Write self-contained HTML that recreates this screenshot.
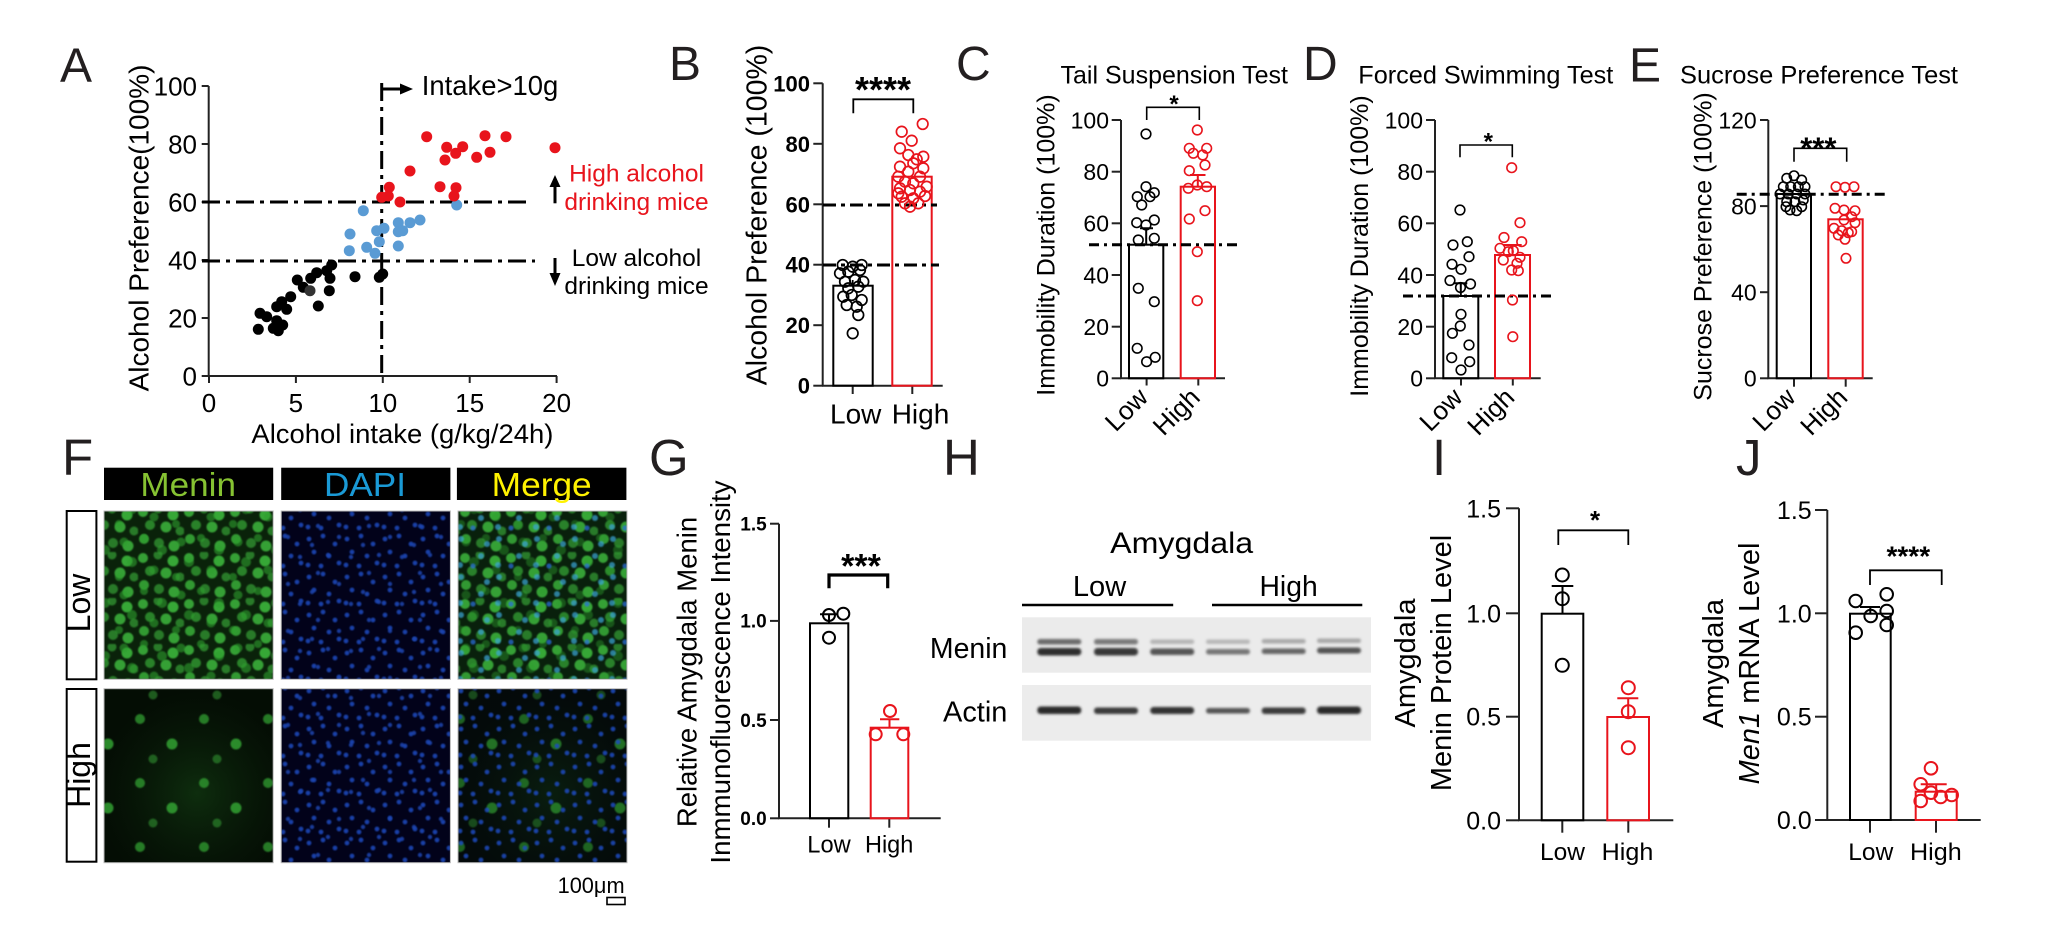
<!DOCTYPE html>
<html><head><meta charset="utf-8"><style>
html,body{margin:0;padding:0;background:#fff;}
svg{display:block;}
text{font-family:"Liberation Sans",Arial,sans-serif;fill:#000;}
.lt{fill:#231f20;font-size:48px;}
.lt2{fill:#231f20;font-size:51px;}
</style></head><body>
<svg width="2048" height="931" viewBox="0 0 2048 931" xmlns="http://www.w3.org/2000/svg">
<defs>
<filter id="bl" x="0" y="0" width="100%" height="100%"><feGaussianBlur stdDeviation="0.9"/></filter>
<filter id="bb" x="-20%" y="-150%" width="140%" height="400%"><feGaussianBlur stdDeviation="1.4"/></filter>
<pattern id="pg1" width="46" height="46" patternUnits="userSpaceOnUse">
<circle cx="5" cy="6" r="5" fill="#3cb63c" fill-opacity=".85"/><circle cx="20" cy="3" r="4.5" fill="#3cb63c" fill-opacity=".6"/>
<circle cx="35" cy="9" r="5.5" fill="#3cb63c" fill-opacity=".9"/><circle cx="12" cy="19" r="5" fill="#3cb63c" fill-opacity=".65"/>
<circle cx="28" cy="21" r="5.5" fill="#3cb63c" fill-opacity=".85"/><circle cx="42" cy="25" r="4.5" fill="#3cb63c" fill-opacity=".6"/>
<circle cx="6" cy="33" r="5" fill="#3cb63c" fill-opacity=".8"/><circle cx="21" cy="37" r="5" fill="#3cb63c" fill-opacity=".6"/>
<circle cx="36" cy="40" r="5.5" fill="#3cb63c" fill-opacity=".85"/>
</pattern>
<pattern id="pg2" width="57" height="53" patternUnits="userSpaceOnUse">
<circle cx="10" cy="12" r="4.5" fill="#2e9e2e" fill-opacity=".6"/><circle cx="30" cy="8" r="4" fill="#2e9e2e" fill-opacity=".6"/>
<circle cx="48" cy="20" r="5" fill="#2e9e2e" fill-opacity=".6"/><circle cx="18" cy="32" r="5" fill="#2e9e2e" fill-opacity=".6"/>
<circle cx="40" cy="40" r="4.5" fill="#2e9e2e" fill-opacity=".6"/><circle cx="5" cy="47" r="4" fill="#2e9e2e" fill-opacity=".6"/>
</pattern>
<pattern id="pb1" width="38" height="38" patternUnits="userSpaceOnUse">
<circle cx="5" cy="7" r="2.4" fill="#1f4cc0"/><circle cx="19" cy="4" r="2.4" fill="#1f4cc0"/><circle cx="31" cy="12" r="2.4" fill="#1f4cc0"/>
<circle cx="10" cy="20" r="2.4" fill="#1f4cc0"/><circle cx="25" cy="24" r="2.4" fill="#1f4cc0"/><circle cx="35" cy="31" r="2.4" fill="#1f4cc0"/>
<circle cx="4" cy="33" r="2.4" fill="#1f4cc0"/><circle cx="17" cy="34" r="2.4" fill="#1f4cc0"/>
</pattern>
<pattern id="pb2" width="51" height="47" patternUnits="userSpaceOnUse">
<circle cx="12" cy="9" r="2.2" fill="#1c44b0"/><circle cx="33" cy="20" r="2.2" fill="#1c44b0"/><circle cx="45" cy="40" r="2.2" fill="#1c44b0"/>
<circle cx="22" cy="38" r="2.2" fill="#1c44b0"/><circle cx="6" cy="28" r="2.2" fill="#1c44b0"/>
</pattern>
<pattern id="pc" width="38" height="38" patternUnits="userSpaceOnUse">
<circle cx="5" cy="7" r="3" fill="#3aa6d8"/><circle cx="31" cy="12" r="3" fill="#3aa6d8"/>
<circle cx="25" cy="24" r="3" fill="#3aa6d8"/><circle cx="4" cy="33" r="3" fill="#3aa6d8"/><circle cx="17" cy="34" r="2.6" fill="#2b6fe3"/>
</pattern>
<pattern id="ps" width="64" height="64" patternUnits="userSpaceOnUse">
<circle cx="12" cy="15" r="5" fill="#35a935" fill-opacity=".7"/><circle cx="44" cy="40" r="5.5" fill="#35a935" fill-opacity=".8"/>
<circle cx="25" cy="55" r="4.5" fill="#35a935" fill-opacity=".5"/>
</pattern>
<radialGradient id="hz" cx="0.55" cy="0.6" r="0.6">
<stop offset="0" stop-color="#1b5a1b" stop-opacity=".45"/><stop offset="1" stop-color="#0a220a" stop-opacity=".15"/>
</radialGradient>
</defs>

<!-- ================= PANEL A ================= -->
<text class="lt" x="60" y="81.7" font-size="46">A</text>
<g stroke="#222" stroke-width="2" fill="none">
<line x1="208.7" y1="86" x2="208.7" y2="376"/>
<line x1="208" y1="376" x2="557" y2="376"/>
<line x1="201.7" y1="86" x2="208.7" y2="86"/><line x1="201.7" y1="144" x2="208.7" y2="144"/>
<line x1="201.7" y1="202" x2="208.7" y2="202"/><line x1="201.7" y1="260" x2="208.7" y2="260"/>
<line x1="201.7" y1="318" x2="208.7" y2="318"/><line x1="201.7" y1="376" x2="208.7" y2="376"/>
<line x1="209" y1="376" x2="209" y2="383"/><line x1="295.9" y1="376" x2="295.9" y2="383"/>
<line x1="382.8" y1="376" x2="382.8" y2="383"/><line x1="469.7" y1="376" x2="469.7" y2="383"/>
<line x1="556.6" y1="376" x2="556.6" y2="383"/>
</g>
<g font-size="26" text-anchor="end">
<text x="197" y="95.3">100</text><text x="197" y="153.3">80</text><text x="197" y="211.3">60</text>
<text x="197" y="269.3">40</text><text x="197" y="327.3">20</text><text x="197" y="385.3">0</text>
</g>
<g font-size="26" text-anchor="middle">
<text x="209" y="412">0</text><text x="295.9" y="412">5</text><text x="382.8" y="412">10</text>
<text x="469.7" y="412">15</text><text x="556.6" y="412">20</text>
</g>
<text x="251.4" y="443" font-size="27" textLength="302" lengthAdjust="spacingAndGlyphs">Alcohol intake (g/kg/24h)</text>
<text transform="translate(148.3,228) rotate(-90)" font-size="28" text-anchor="middle">Alcohol Preference(100%)</text>
<g stroke="#000" stroke-width="3" stroke-dasharray="18 6 4 6" fill="none">
<line x1="202" y1="202" x2="532" y2="202"/>
<line x1="202" y1="261" x2="535" y2="261"/>
<line x1="381.7" y1="83" x2="381.7" y2="376"/>
</g>
<line x1="383" y1="89" x2="402" y2="89" stroke="#000" stroke-width="3"/>
<polygon points="400,83.5 413,89 400,94.5" fill="#000"/>
<text x="421.7" y="95" font-size="28" textLength="136.6" lengthAdjust="spacingAndGlyphs">Intake&gt;10g</text>
<line x1="555" y1="203.3" x2="555" y2="186" stroke="#000" stroke-width="3"/>
<polygon points="549.5,187 555,175 560.5,187" fill="#000"/>
<line x1="555" y1="258" x2="555" y2="274" stroke="#000" stroke-width="3"/>
<polygon points="549.5,273 555,286 560.5,273" fill="#000"/>
<g font-size="24.5" text-anchor="middle">
<text x="636.5" y="181.7" style="fill:#e8141c">High alcohol</text>
<text x="636.5" y="210" style="fill:#e8141c">drinking mice</text>
<text x="636.5" y="266">Low alcohol</text>
<text x="636.5" y="294">drinking mice</text>
</g>
<g fill="#000">
<circle cx="331.7" cy="265" r="5.5"/><circle cx="316.7" cy="272.7" r="5.5"/><circle cx="310.7" cy="278.3" r="5.5"/>
<circle cx="330" cy="278.3" r="5.5"/><circle cx="326.7" cy="270.7" r="5.5"/><circle cx="297.3" cy="280" r="5.5"/>
<circle cx="303.3" cy="287.3" r="5.5"/><circle cx="329.3" cy="290.7" r="5.5"/><circle cx="355" cy="276.7" r="5.5"/>
<circle cx="379.3" cy="277.3" r="5.5"/><circle cx="382.7" cy="274" r="5.5"/><circle cx="290.7" cy="296.7" r="5.5"/>
<circle cx="318.3" cy="306" r="5.5"/><circle cx="286.7" cy="309.3" r="5.5"/><circle cx="281.7" cy="301.7" r="5.5"/>
<circle cx="276.7" cy="306.7" r="5.5"/><circle cx="260" cy="313.3" r="5.5"/><circle cx="266.7" cy="316.7" r="5.5"/>
<circle cx="276.7" cy="320.7" r="5.5"/><circle cx="282.7" cy="325" r="5.5"/><circle cx="278.3" cy="330.7" r="5.5"/>
<circle cx="258.3" cy="329.3" r="5.5"/><circle cx="273.3" cy="328.3" r="5.5"/>
</g>
<circle cx="310" cy="290.7" r="5.5" fill="#333"/>
<g fill="#5a9bd4">
<circle cx="363.3" cy="210.7" r="5.5"/><circle cx="456.7" cy="205" r="5.5"/><circle cx="398.3" cy="222.7" r="5.5"/>
<circle cx="410" cy="222.7" r="5.5"/><circle cx="420" cy="220" r="5.5"/><circle cx="398.3" cy="231.7" r="5.5"/>
<circle cx="402.7" cy="230.7" r="5.5"/><circle cx="350" cy="234" r="5.5"/><circle cx="376.7" cy="230.7" r="5.5"/>
<circle cx="384" cy="228.3" r="5.5"/><circle cx="379.3" cy="241.7" r="5.5"/><circle cx="366.7" cy="247.3" r="5.5"/>
<circle cx="398.3" cy="246" r="5.5"/><circle cx="349.3" cy="250.7" r="5.5"/><circle cx="375" cy="253.3" r="5.5"/>
</g>
<g fill="#e8141c">
<circle cx="426.7" cy="136.7" r="5.5"/><circle cx="446.7" cy="147.3" r="5.5"/><circle cx="462.7" cy="146.7" r="5.5"/>
<circle cx="455.7" cy="153.3" r="5.5"/><circle cx="445" cy="160" r="5.5"/><circle cx="485" cy="135.7" r="5.5"/>
<circle cx="506" cy="136.7" r="5.5"/><circle cx="490" cy="152.3" r="5.5"/><circle cx="476.7" cy="157.3" r="5.5"/>
<circle cx="555" cy="147.7" r="5.5"/><circle cx="410" cy="171" r="5.5"/><circle cx="389.3" cy="187.3" r="5.5"/>
<circle cx="440" cy="186.7" r="5.5"/><circle cx="456" cy="187.7" r="5.5"/><circle cx="454" cy="196" r="5.5"/>
<circle cx="381.7" cy="197.3" r="5.5"/><circle cx="388.3" cy="196" r="5.5"/><circle cx="400" cy="202" r="5.5"/>
</g>

<!-- ================= PANEL B ================= -->
<text class="lt" x="669" y="80">B</text>
<text transform="translate(766.7,215) rotate(-90)" font-size="28.5" text-anchor="middle">Alcohol Preference (100%)</text>
<g stroke="#222" stroke-width="2" fill="none">
<line x1="822.7" y1="83.3" x2="822.7" y2="385.7"/>
<line x1="822" y1="385.7" x2="942.7" y2="385.7"/>
<line x1="813.3" y1="83.3" x2="822.7" y2="83.3"/><line x1="813.3" y1="143.8" x2="822.7" y2="143.8"/>
<line x1="813.3" y1="204.3" x2="822.7" y2="204.3"/><line x1="813.3" y1="264.7" x2="822.7" y2="264.7"/>
<line x1="813.3" y1="325.2" x2="822.7" y2="325.2"/><line x1="813.3" y1="385.7" x2="822.7" y2="385.7"/>
<line x1="852.7" y1="385.7" x2="852.7" y2="394"/><line x1="912.3" y1="385.7" x2="912.3" y2="394"/>
</g>
<g font-size="22" font-weight="bold" text-anchor="end">
<text x="810" y="91.3">100</text><text x="810" y="151.8">80</text><text x="810" y="212.3">60</text>
<text x="810" y="272.7">40</text><text x="810" y="333.2">20</text><text x="810" y="393.7">0</text>
</g>
<rect x="833.3" y="285.7" width="39.4" height="100" fill="none" stroke="#000" stroke-width="2"/>
<rect x="892.3" y="176.7" width="39.4" height="209" fill="none" stroke="#e8141c" stroke-width="2"/>
<g stroke="#000" stroke-width="3" stroke-dasharray="13 5 4 5" fill="none">
<line x1="823" y1="205" x2="937" y2="205"/>
<line x1="823" y1="265" x2="939" y2="265"/>
</g>
<path d="M853.3,113.3 V99.3 H913.3 V113.3" fill="none" stroke="#000" stroke-width="1.8"/>
<text x="883" y="102" font-size="36" font-weight="bold" text-anchor="middle">****</text>
<g fill="none" stroke="#000" stroke-width="1.7">
<circle cx="842.7" cy="265" r="5.3"/><circle cx="852.7" cy="266.7" r="5.3"/><circle cx="861.7" cy="265" r="5.3"/>
<circle cx="840" cy="273.3" r="5.3"/><circle cx="848.3" cy="271.7" r="5.3"/><circle cx="860" cy="270" r="5.3"/>
<circle cx="845" cy="281.7" r="5.3"/><circle cx="855" cy="280" r="5.3"/><circle cx="863.3" cy="281.7" r="5.3"/>
<circle cx="848.3" cy="288.3" r="5.3"/><circle cx="858.3" cy="286.7" r="5.3"/><circle cx="843.3" cy="296.7" r="5.3"/>
<circle cx="851.7" cy="295" r="5.3"/><circle cx="861.7" cy="300" r="5.3"/><circle cx="846.7" cy="305" r="5.3"/>
<circle cx="856.7" cy="306.7" r="5.3"/><circle cx="858.3" cy="315" r="5.3"/><circle cx="852.7" cy="333.3" r="5.3"/>
<line x1="852.7" y1="285.7" x2="852.7" y2="280"/>
</g>
<g fill="none" stroke="#e8141c" stroke-width="1.7">
<circle cx="922.7" cy="124" r="5.3"/><circle cx="901.7" cy="131.7" r="5.3"/><circle cx="911.7" cy="140.7" r="5.3"/>
<circle cx="900" cy="148.3" r="5.3"/><circle cx="923.3" cy="156.7" r="5.3"/><circle cx="908.3" cy="155" r="5.3"/>
<circle cx="916.7" cy="159.3" r="5.3"/><circle cx="900" cy="166.7" r="5.3"/><circle cx="913.3" cy="163.3" r="5.3"/>
<circle cx="908.3" cy="171.7" r="5.3"/><circle cx="923.3" cy="168.3" r="5.3"/><circle cx="898.3" cy="176.7" r="5.3"/>
<circle cx="920" cy="176.7" r="5.3"/><circle cx="905" cy="181.7" r="5.3"/><circle cx="913.3" cy="183.3" r="5.3"/>
<circle cx="900" cy="188.3" r="5.3"/><circle cx="926.7" cy="186.7" r="5.3"/><circle cx="910" cy="190" r="5.3"/>
<circle cx="920" cy="191.7" r="5.3"/><circle cx="901.7" cy="196.7" r="5.3"/><circle cx="913.3" cy="198.3" r="5.3"/>
<circle cx="925" cy="196" r="5.3"/><circle cx="905" cy="203.3" r="5.3"/><circle cx="918.3" cy="203.3" r="5.3"/>
<circle cx="910" cy="206.7" r="5.3"/><circle cx="898.3" cy="193.3" r="5.3"/>
</g>
<text x="830" y="423.3" font-size="28">Low</text>
<text x="891.7" y="423.3" font-size="28">High</text>

<!-- ================= PANEL C ================= -->
<text class="lt" x="956" y="80">C</text>
<text x="1288" y="83.3" font-size="25" text-anchor="end">Tail Suspension Test</text>
<text transform="translate(1054.5,245) rotate(-90)" font-size="25" text-anchor="middle">Immobility Duration (100%)</text>
<g stroke="#222" stroke-width="2" fill="none">
<line x1="1121" y1="120" x2="1121" y2="378.3"/>
<line x1="1120" y1="378.3" x2="1225" y2="378.3"/>
<line x1="1111.7" y1="120" x2="1121" y2="120"/><line x1="1111.7" y1="171.7" x2="1121" y2="171.7"/>
<line x1="1111.7" y1="223.3" x2="1121" y2="223.3"/><line x1="1111.7" y1="275" x2="1121" y2="275"/>
<line x1="1111.7" y1="326.7" x2="1121" y2="326.7"/><line x1="1111.7" y1="378.3" x2="1121" y2="378.3"/>
<line x1="1146.6" y1="378.3" x2="1146.6" y2="385.5"/><line x1="1198.3" y1="378.3" x2="1198.3" y2="385.5"/>
</g>
<g font-size="23" text-anchor="end">
<text x="1109" y="128.3">100</text><text x="1109" y="180">80</text><text x="1109" y="231.6">60</text>
<text x="1109" y="283.3">40</text><text x="1109" y="335">20</text><text x="1109" y="386.6">0</text>
</g>
<rect x="1129" y="244.7" width="34.3" height="133.6" fill="none" stroke="#000" stroke-width="2"/>
<rect x="1180.7" y="186.7" width="34.3" height="191.6" fill="none" stroke="#e8141c" stroke-width="2"/>
<path d="M1146.2,244.7 V228.3 M1140,228.3 H1153" stroke="#000" stroke-width="2" fill="none"/>
<path d="M1197.8,186.7 V175 M1190,175 H1205.5" stroke="#e8141c" stroke-width="2" fill="none"/>
<line x1="1089" y1="244.7" x2="1237" y2="244.7" stroke="#000" stroke-width="3" stroke-dasharray="10 5 3 5"/>
<path d="M1146.7,120 V107.3 H1199.3 V120" fill="none" stroke="#000" stroke-width="1.6"/>
<text x="1174" y="112" font-size="24" font-weight="bold" text-anchor="middle">*</text>
<g fill="none" stroke="#000" stroke-width="1.6">
<circle cx="1146" cy="134" r="4.8"/><circle cx="1146" cy="186.7" r="4.8"/><circle cx="1137.3" cy="196.7" r="4.8"/>
<circle cx="1150" cy="196.7" r="4.8"/><circle cx="1154.3" cy="192.7" r="4.8"/><circle cx="1141.7" cy="205" r="4.8"/>
<circle cx="1154.3" cy="220" r="4.8"/><circle cx="1136.7" cy="222.7" r="4.8"/><circle cx="1146" cy="225" r="4.8"/>
<circle cx="1138.3" cy="240" r="4.8"/><circle cx="1154.3" cy="238.3" r="4.8"/><circle cx="1138.3" cy="288.3" r="4.8"/>
<circle cx="1154.3" cy="301.7" r="4.8"/><circle cx="1137.2" cy="348.3" r="4.8"/><circle cx="1155.2" cy="357.3" r="4.8"/>
<circle cx="1146.6" cy="361.7" r="4.8"/>
</g>
<g fill="none" stroke="#e8141c" stroke-width="1.6">
<circle cx="1197.3" cy="130" r="4.8"/><circle cx="1189.3" cy="148.3" r="4.8"/><circle cx="1206.7" cy="148.3" r="4.8"/>
<circle cx="1193.3" cy="153.3" r="4.8"/><circle cx="1202.7" cy="155" r="4.8"/><circle cx="1205" cy="165" r="4.8"/>
<circle cx="1189.3" cy="170.7" r="4.8"/><circle cx="1197.3" cy="185" r="4.8"/><circle cx="1188.3" cy="188.3" r="4.8"/>
<circle cx="1206.7" cy="186.7" r="4.8"/><circle cx="1205" cy="210.7" r="4.8"/><circle cx="1189.3" cy="219" r="4.8"/>
<circle cx="1197.3" cy="251.7" r="4.8"/><circle cx="1197.3" cy="300.7" r="4.8"/>
</g>
<g font-size="26" text-anchor="end">
<text transform="translate(1149.5,399) rotate(-45)">Low</text>
<text transform="translate(1201.5,399) rotate(-45)">High</text>
</g>

<!-- ================= PANEL D ================= -->
<text class="lt" x="1303" y="80">D</text>
<text x="1358.3" y="83.3" font-size="25" textLength="255" lengthAdjust="spacingAndGlyphs">Forced Swimming Test</text>
<text transform="translate(1368,246) rotate(-90)" font-size="25" text-anchor="middle">Immobility Duration (100%)</text>
<g stroke="#222" stroke-width="2" fill="none">
<line x1="1435" y1="120" x2="1435" y2="378.3"/>
<line x1="1434" y1="378.3" x2="1540.7" y2="378.3"/>
<line x1="1426" y1="120" x2="1435" y2="120"/><line x1="1426" y1="171.7" x2="1435" y2="171.7"/>
<line x1="1426" y1="223.3" x2="1435" y2="223.3"/><line x1="1426" y1="275" x2="1435" y2="275"/>
<line x1="1426" y1="326.7" x2="1435" y2="326.7"/><line x1="1426" y1="378.3" x2="1435" y2="378.3"/>
<line x1="1461" y1="378.3" x2="1461" y2="385.5"/><line x1="1512.8" y1="378.3" x2="1512.8" y2="385.5"/>
</g>
<g font-size="23" text-anchor="end">
<text x="1423" y="128.3">100</text><text x="1423" y="180">80</text><text x="1423" y="231.6">60</text>
<text x="1423" y="283.3">40</text><text x="1423" y="335">20</text><text x="1423" y="386.6">0</text>
</g>
<rect x="1443.3" y="296" width="35" height="82.3" fill="none" stroke="#000" stroke-width="2"/>
<rect x="1495" y="255" width="35" height="123.3" fill="none" stroke="#e8141c" stroke-width="2"/>
<path d="M1460.8,296 V283.3 M1453.3,283.3 H1467.3" stroke="#000" stroke-width="2" fill="none"/>
<path d="M1512.5,255 V245 M1503,245 H1521.7" stroke="#e8141c" stroke-width="2" fill="none"/>
<line x1="1403" y1="296" x2="1552" y2="296" stroke="#000" stroke-width="3" stroke-dasharray="10 5 3 5"/>
<path d="M1460,157.3 V145 H1512.3 V157.3" fill="none" stroke="#000" stroke-width="1.6"/>
<text x="1488.3" y="149.6" font-size="24" font-weight="bold" text-anchor="middle">*</text>
<g fill="none" stroke="#000" stroke-width="1.6">
<circle cx="1460" cy="210" r="4.8"/><circle cx="1453" cy="245" r="4.8"/><circle cx="1467.3" cy="241.7" r="4.8"/>
<circle cx="1469" cy="256.7" r="4.8"/><circle cx="1452" cy="264.3" r="4.8"/><circle cx="1461" cy="269.3" r="4.8"/>
<circle cx="1450" cy="280.5" r="4.8"/><circle cx="1470.5" cy="284" r="4.8"/><circle cx="1460.5" cy="287.5" r="4.8"/>
<circle cx="1461" cy="314.3" r="4.8"/><circle cx="1460.3" cy="326" r="4.8"/><circle cx="1452.4" cy="333.3" r="4.8"/>
<circle cx="1469" cy="345" r="4.8"/><circle cx="1451.7" cy="357.7" r="4.8"/><circle cx="1469.7" cy="361.7" r="4.8"/>
<circle cx="1461" cy="370" r="4.8"/>
</g>
<g fill="none" stroke="#e8141c" stroke-width="1.6">
<circle cx="1511.7" cy="167.7" r="4.8"/><circle cx="1520" cy="222.7" r="4.8"/><circle cx="1504" cy="237.5" r="4.8"/>
<circle cx="1521.7" cy="241.7" r="4.8"/><circle cx="1500" cy="248.3" r="4.8"/><circle cx="1508.3" cy="251.7" r="4.8"/>
<circle cx="1513.3" cy="250.7" r="4.8"/><circle cx="1520" cy="257.3" r="4.8"/><circle cx="1503.3" cy="260" r="4.8"/>
<circle cx="1511.7" cy="270" r="4.8"/><circle cx="1518.3" cy="270.7" r="4.8"/><circle cx="1512.5" cy="300" r="4.8"/>
<circle cx="1512.8" cy="336.7" r="4.8"/><circle cx="1517" cy="263.3" r="4.8"/>
</g>
<g font-size="26" text-anchor="end">
<text transform="translate(1464,399) rotate(-45)">Low</text>
<text transform="translate(1516,399) rotate(-45)">High</text>
</g>

<!-- ================= PANEL E ================= -->
<text class="lt" x="1629" y="81.7" font-size="50">E</text>
<text x="1680" y="83.3" font-size="25" textLength="278" lengthAdjust="spacingAndGlyphs">Sucrose Preference Test</text>
<text transform="translate(1711.7,246.5) rotate(-90)" font-size="25" text-anchor="middle">Sucrose Preference (100%)</text>
<g stroke="#222" stroke-width="2" fill="none">
<line x1="1768.3" y1="120" x2="1768.3" y2="378.3"/>
<line x1="1767.3" y1="378.3" x2="1872.7" y2="378.3"/>
<line x1="1760" y1="120" x2="1768.3" y2="120"/><line x1="1760" y1="206.1" x2="1768.3" y2="206.1"/>
<line x1="1760" y1="292.2" x2="1768.3" y2="292.2"/><line x1="1760" y1="378.3" x2="1768.3" y2="378.3"/>
<line x1="1794" y1="378.3" x2="1794" y2="386.7"/><line x1="1845.7" y1="378.3" x2="1845.7" y2="386.7"/>
</g>
<g font-size="23" text-anchor="end">
<text x="1756.7" y="128.3">120</text><text x="1756.7" y="214.4">80</text>
<text x="1756.7" y="300.5">40</text><text x="1756.7" y="386.6">0</text>
</g>
<rect x="1776.7" y="194" width="34.3" height="184.3" fill="none" stroke="#000" stroke-width="2"/>
<rect x="1828.3" y="219.3" width="34.4" height="159" fill="none" stroke="#e8141c" stroke-width="2"/>
<line x1="1736.7" y1="194.3" x2="1885" y2="194.3" stroke="#000" stroke-width="3" stroke-dasharray="10 5 3 5"/>
<path d="M1794,161.7 V148.3 H1846.7 V161.7" fill="none" stroke="#000" stroke-width="1.6"/>
<text x="1818.3" y="158.4" font-size="31" font-weight="bold" text-anchor="middle">***</text>
<g fill="none" stroke="#000" stroke-width="1.6">
<circle cx="1794" cy="175.7" r="4.7"/><circle cx="1786.7" cy="178.3" r="4.7"/><circle cx="1801.7" cy="180" r="4.7"/>
<circle cx="1783.3" cy="186.7" r="4.7"/><circle cx="1790.7" cy="186.7" r="4.7"/><circle cx="1798.3" cy="186.7" r="4.7"/>
<circle cx="1805" cy="186.7" r="4.7"/><circle cx="1780" cy="194" r="4.7"/><circle cx="1788.3" cy="194" r="4.7"/>
<circle cx="1796.7" cy="194" r="4.7"/><circle cx="1805" cy="194" r="4.7"/><circle cx="1786.7" cy="201.7" r="4.7"/>
<circle cx="1795" cy="201.7" r="4.7"/><circle cx="1803.3" cy="200" r="4.7"/><circle cx="1790" cy="210" r="4.7"/>
<circle cx="1796.7" cy="210.7" r="4.7"/><circle cx="1786" cy="206.7" r="4.7"/><circle cx="1801.7" cy="206.7" r="4.7"/>
</g>
<g fill="none" stroke="#e8141c" stroke-width="1.6">
<circle cx="1836" cy="186.7" r="4.7"/><circle cx="1845" cy="187.3" r="4.7"/><circle cx="1854" cy="186.7" r="4.7"/>
<circle cx="1835" cy="208.3" r="4.7"/><circle cx="1844" cy="210" r="4.7"/><circle cx="1855" cy="210.7" r="4.7"/>
<circle cx="1851.7" cy="216.7" r="4.7"/><circle cx="1844" cy="220" r="4.7"/><circle cx="1834" cy="228.3" r="4.7"/>
<circle cx="1841.7" cy="230.7" r="4.7"/><circle cx="1855" cy="222.7" r="4.7"/><circle cx="1848.3" cy="232.7" r="4.7"/>
<circle cx="1838.3" cy="235" r="4.7"/><circle cx="1845" cy="239.3" r="4.7"/><circle cx="1851.7" cy="231.7" r="4.7"/>
<circle cx="1846" cy="258.3" r="4.7"/>
</g>
<g font-size="26" text-anchor="end">
<text transform="translate(1797,399) rotate(-45)">Low</text>
<text transform="translate(1849,399) rotate(-45)">High</text>
</g>

<!-- ================= PANEL F ================= -->
<text class="lt2" x="62" y="475">F</text>
<rect x="104" y="467.7" width="169.2" height="32.3" fill="#000"/>
<rect x="281.2" y="467.7" width="169.2" height="32.3" fill="#000"/>
<rect x="456.9" y="467.7" width="169.5" height="32.3" fill="#000"/>
<text x="140.4" y="496" font-size="33" textLength="95.6" lengthAdjust="spacingAndGlyphs" style="fill:#86c232">Menin</text>
<text x="324" y="496" font-size="33" textLength="82" lengthAdjust="spacingAndGlyphs" style="fill:#1a9ad6">DAPI</text>
<text x="491.7" y="496" font-size="33" textLength="100" lengthAdjust="spacingAndGlyphs" style="fill:#fff200">Merge</text>
<rect x="66.7" y="511" width="29.7" height="168.3" fill="#fff" stroke="#000" stroke-width="2"/>
<rect x="66.7" y="689" width="29.7" height="172.7" fill="#fff" stroke="#000" stroke-width="2"/>
<text transform="translate(90,603) rotate(-90)" font-size="32" text-anchor="middle">Low</text>
<text transform="translate(90,775) rotate(-90)" font-size="32" text-anchor="middle">High</text>
<g>
<rect x="104" y="511" width="169.2" height="168.3" fill="#0a220a"/>
<rect x="104" y="511" width="169.2" height="168.3" fill="url(#pg1)" filter="url(#bl)"/>
<rect x="104" y="511" width="169.2" height="168.3" fill="url(#pg2)" filter="url(#bl)"/>
<rect x="281.2" y="511" width="169.2" height="168.3" fill="#02021a"/>
<rect x="281.2" y="511" width="169.2" height="168.3" fill="url(#pb1)" filter="url(#bl)" opacity=".85"/>
<rect x="281.2" y="511" width="169.2" height="168.3" fill="url(#pb2)" filter="url(#bl)" opacity=".85"/>
<rect x="458" y="511" width="169" height="168.3" fill="#09200c"/>
<rect x="458" y="511" width="169" height="168.3" fill="url(#pg1)" filter="url(#bl)"/>
<rect x="458" y="511" width="169" height="168.3" fill="url(#pg2)" filter="url(#bl)" opacity=".7"/>
<rect x="458" y="511" width="169" height="168.3" fill="url(#pc)" filter="url(#bl)" opacity=".7"/>
</g>
<g>
<rect x="104" y="688.7" width="169.2" height="174" fill="#030903"/>
<rect x="104" y="688.7" width="169.2" height="174" fill="url(#hz)"/>
<rect x="104" y="688.7" width="169.2" height="174" fill="url(#ps)" filter="url(#bl)"/>
<rect x="281.2" y="688.7" width="169.2" height="174" fill="#02021a"/>
<rect x="281.2" y="688.7" width="169.2" height="174" fill="url(#pb1)" filter="url(#bl)" opacity=".85"/>
<rect x="281.2" y="688.7" width="169.2" height="174" fill="url(#pb2)" filter="url(#bl)" opacity=".85"/>
<rect x="458" y="688.7" width="169" height="174" fill="#03070a"/>
<rect x="458" y="688.7" width="169" height="174" fill="url(#hz)" opacity=".6"/>
<rect x="458" y="688.7" width="169" height="174" fill="url(#ps)" filter="url(#bl)" opacity=".8"/>
<rect x="458" y="688.7" width="169" height="174" fill="url(#pb1)" filter="url(#bl)" opacity=".85"/>
</g>
<g fill="none" stroke="#bbb" stroke-width="1">
<rect x="104" y="511" width="169.2" height="168.3"/><rect x="281.2" y="511" width="169.2" height="168.3"/><rect x="458" y="511" width="169" height="168.3"/>
<rect x="104" y="688.7" width="169.2" height="174"/><rect x="281.2" y="688.7" width="169.2" height="174"/><rect x="458" y="688.7" width="169" height="174"/>
</g>
<text x="557.6" y="893" font-size="22" textLength="67" lengthAdjust="spacingAndGlyphs">100μm</text>
<rect x="607" y="897.5" width="18" height="7" fill="#fff" stroke="#000" stroke-width="1.6"/>

<!-- ================= PANEL G ================= -->
<text class="lt2" x="649" y="475">G</text>
<text transform="translate(696.5,672) rotate(-90)" font-size="27.5" text-anchor="middle">Relative Amygdala Menin</text>
<text transform="translate(730,672) rotate(-90)" font-size="27.7" text-anchor="middle">Inmmunofluorescence Intensity</text>
<g stroke="#222" stroke-width="2" fill="none">
<line x1="779" y1="523.7" x2="779" y2="818.3"/>
<line x1="778" y1="818.3" x2="940.7" y2="818.3"/>
<line x1="770" y1="523.7" x2="779" y2="523.7"/><line x1="770" y1="620.9" x2="779" y2="620.9"/>
<line x1="770" y1="720" x2="779" y2="720"/><line x1="770" y1="818.3" x2="779" y2="818.3"/>
<line x1="829" y1="818.3" x2="829" y2="827.7"/><line x1="889.3" y1="818.3" x2="889.3" y2="827.7"/>
</g>
<g font-size="19" font-weight="bold" text-anchor="end">
<text x="766.7" y="530.5">1.5</text><text x="766.7" y="627.7">1.0</text>
<text x="766.7" y="726.8">0.5</text><text x="766.7" y="825.1">0.0</text>
</g>
<rect x="810" y="623.3" width="38.3" height="195" fill="none" stroke="#000" stroke-width="2"/>
<rect x="870.7" y="727.7" width="37.6" height="90.6" fill="none" stroke="#e8141c" stroke-width="2"/>
<path d="M829,623.3 V614.3 M820,614.3 H838.3" stroke="#000" stroke-width="2" fill="none"/>
<path d="M889.5,727.7 V719.3 M880,719.3 H899.3" stroke="#e8141c" stroke-width="2" fill="none"/>
<path d="M829,588.3 V575 H887.7 V588.3" fill="none" stroke="#000" stroke-width="3.2"/>
<text x="861" y="577.7" font-size="34" font-weight="bold" text-anchor="middle">***</text>
<g fill="none" stroke="#000" stroke-width="2">
<circle cx="829" cy="615" r="6"/><circle cx="843.3" cy="613.7" r="6"/><circle cx="829" cy="637.7" r="6"/>
</g>
<g fill="none" stroke="#e8141c" stroke-width="2">
<circle cx="890" cy="711" r="6"/><circle cx="875.7" cy="734.3" r="6"/><circle cx="903.3" cy="734.3" r="6"/>
</g>
<text x="807.3" y="852.5" font-size="24" textLength="43.4" lengthAdjust="spacingAndGlyphs">Low</text>
<text x="865" y="852.5" font-size="24" textLength="48.3" lengthAdjust="spacingAndGlyphs">High</text>

<!-- ================= PANEL H ================= -->
<text class="lt2" x="943" y="475">H</text>
<text x="1110.2" y="553" font-size="30" textLength="143" lengthAdjust="spacingAndGlyphs">Amygdala</text>
<text x="1072.9" y="596" font-size="29" textLength="53.3" lengthAdjust="spacingAndGlyphs">Low</text>
<text x="1259.5" y="596" font-size="29" textLength="58.2" lengthAdjust="spacingAndGlyphs">High</text>
<line x1="1022" y1="605" x2="1173.2" y2="605" stroke="#000" stroke-width="2.5"/>
<line x1="1212" y1="605" x2="1362.3" y2="605" stroke="#000" stroke-width="2.5"/>
<text x="929.9" y="658" font-size="29" textLength="77.5" lengthAdjust="spacingAndGlyphs">Menin</text>
<text x="943" y="721.5" font-size="29" textLength="64.4" lengthAdjust="spacingAndGlyphs">Actin</text>
<rect x="1022" y="617.3" width="349" height="55.4" fill="#ebebeb"/>
<rect x="1022" y="685" width="349" height="55.7" fill="#ececec"/>
<g filter="url(#bb)">
<rect x="1037.3" y="639" width="44" height="5.5" rx="2.7" fill="#6a6a6a"/>
<rect x="1094" y="639" width="44" height="5.5" rx="2.7" fill="#7a7a7a"/>
<rect x="1150.2" y="639.5" width="44" height="4.5" rx="2.2" fill="#b5b5b5"/>
<rect x="1206" y="639.5" width="44" height="4.5" rx="2.2" fill="#b8b8b8"/>
<rect x="1261.7" y="639" width="44" height="4.5" rx="2.2" fill="#aaaaaa"/>
<rect x="1317" y="638.5" width="44" height="4.5" rx="2.2" fill="#a8a8a8"/>
<rect x="1037.3" y="648" width="44" height="7.5" rx="3.5" fill="#2e2e2e"/>
<rect x="1094" y="648" width="44" height="7.5" rx="3.5" fill="#383838"/>
<rect x="1150.2" y="648.5" width="44" height="6.5" rx="3" fill="#555"/>
<rect x="1206" y="649" width="44" height="5.5" rx="2.7" fill="#777"/>
<rect x="1261.7" y="648.5" width="44" height="5.5" rx="2.7" fill="#666"/>
<rect x="1317" y="647.5" width="44" height="6" rx="3" fill="#555"/>
<rect x="1037.3" y="706.5" width="44" height="7.5" rx="3.5" fill="#2a2a2a"/>
<rect x="1094" y="707.5" width="44" height="6.5" rx="3" fill="#3a3a3a"/>
<rect x="1150.2" y="707" width="44" height="7" rx="3.5" fill="#333"/>
<rect x="1206" y="708" width="44" height="5.5" rx="2.7" fill="#555"/>
<rect x="1261.7" y="707.5" width="44" height="6.5" rx="3" fill="#3a3a3a"/>
<rect x="1317" y="706.5" width="44" height="7.5" rx="3.5" fill="#2a2a2a"/>
</g>

<!-- ================= PANEL I ================= -->
<text class="lt2" x="1432" y="475">I</text>
<text transform="translate(1415,663) rotate(-90)" font-size="29" text-anchor="middle">Amygdala</text>
<text transform="translate(1451,663) rotate(-90)" font-size="29" text-anchor="middle">Menin Protein Level</text>
<g stroke="#222" stroke-width="2" fill="none">
<line x1="1519" y1="508.3" x2="1519" y2="820.3"/>
<line x1="1518" y1="820.3" x2="1673.3" y2="820.3"/>
<line x1="1506" y1="508.3" x2="1519" y2="508.3"/><line x1="1506" y1="613.3" x2="1519" y2="613.3"/>
<line x1="1506" y1="716.7" x2="1519" y2="716.7"/><line x1="1506" y1="820.3" x2="1519" y2="820.3"/>
<line x1="1562.3" y1="820.3" x2="1562.3" y2="832.7"/><line x1="1628.3" y1="820.3" x2="1628.3" y2="832.7"/>
</g>
<g font-size="25" text-anchor="end">
<text x="1501" y="517.3">1.5</text><text x="1501" y="622.3">1.0</text>
<text x="1501" y="725.7">0.5</text><text x="1501" y="829.3">0.0</text>
</g>
<rect x="1541.7" y="613.7" width="41.6" height="206.6" fill="none" stroke="#000" stroke-width="2"/>
<rect x="1607.3" y="717" width="41.7" height="103.3" fill="none" stroke="#e8141c" stroke-width="2"/>
<path d="M1562.5,613.7 V586 M1551.7,586 H1573.3" stroke="#000" stroke-width="2" fill="none"/>
<path d="M1628.2,717 V698.3 M1617.3,698.3 H1638.3" stroke="#e8141c" stroke-width="2" fill="none"/>
<path d="M1558.3,545 V530.3 H1628.3 V545" fill="none" stroke="#000" stroke-width="1.8"/>
<text x="1595" y="529" font-size="26" font-weight="bold" text-anchor="middle">*</text>
<g fill="none" stroke="#000" stroke-width="2">
<circle cx="1562.3" cy="575" r="6.5"/><circle cx="1562.3" cy="598.7" r="6.5"/><circle cx="1562.3" cy="665.3" r="6.5"/>
</g>
<g fill="none" stroke="#e8141c" stroke-width="2">
<circle cx="1628.3" cy="687.7" r="6.5"/><circle cx="1628.3" cy="711.7" r="6.5"/><circle cx="1628.3" cy="747.7" r="6.5"/>
</g>
<text x="1540" y="860" font-size="24.5" textLength="45" lengthAdjust="spacingAndGlyphs">Low</text>
<text x="1601.7" y="860" font-size="24.5" textLength="51.6" lengthAdjust="spacingAndGlyphs">High</text>

<!-- ================= PANEL J ================= -->
<text class="lt2" x="1736" y="475">J</text>
<text transform="translate(1723,663.5) rotate(-90)" font-size="29" text-anchor="middle">Amygdala</text>
<text transform="translate(1759,663.5) rotate(-90)" font-size="29" text-anchor="middle"><tspan font-style="italic">Men1</tspan> mRNA Level</text>
<g stroke="#222" stroke-width="2" fill="none">
<line x1="1827.3" y1="510" x2="1827.3" y2="820"/>
<line x1="1826.3" y1="820" x2="1980.7" y2="820"/>
<line x1="1815" y1="510" x2="1827.3" y2="510"/><line x1="1815" y1="613.3" x2="1827.3" y2="613.3"/>
<line x1="1815" y1="716.7" x2="1827.3" y2="716.7"/><line x1="1815" y1="820" x2="1827.3" y2="820"/>
<line x1="1870" y1="820" x2="1870" y2="832.7"/><line x1="1936" y1="820" x2="1936" y2="832.7"/>
</g>
<g font-size="25" text-anchor="end">
<text x="1811.7" y="519">1.5</text><text x="1811.7" y="622.3">1.0</text>
<text x="1811.7" y="725.7">0.5</text><text x="1811.7" y="829">0.0</text>
</g>
<rect x="1850" y="613.7" width="40.7" height="206.3" fill="none" stroke="#000" stroke-width="2"/>
<rect x="1915.7" y="791.7" width="41" height="28.3" fill="none" stroke="#e8141c" stroke-width="2"/>
<path d="M1870.3,613.7 V607 M1860,607 H1880" stroke="#000" stroke-width="2" fill="none"/>
<path d="M1936.2,791.7 V784.3 M1920.7,784.3 H1946.7" stroke="#e8141c" stroke-width="2" fill="none"/>
<path d="M1870,585 V570.3 H1941.7 V585" fill="none" stroke="#000" stroke-width="1.8"/>
<text x="1908.3" y="565.5" font-size="28" font-weight="bold" text-anchor="middle">****</text>
<g fill="none" stroke="#000" stroke-width="2">
<circle cx="1855.7" cy="601" r="6.3"/><circle cx="1886.7" cy="594.3" r="6.3"/><circle cx="1870.7" cy="616" r="6.3"/>
<circle cx="1886.7" cy="611" r="6.3"/><circle cx="1886.7" cy="625" r="6.3"/><circle cx="1855.7" cy="632.7" r="6.3"/>
</g>
<g fill="none" stroke="#e8141c" stroke-width="2">
<circle cx="1931" cy="768.3" r="6.3"/><circle cx="1920.7" cy="784.3" r="6.3"/><circle cx="1931" cy="792.7" r="6.3"/>
<circle cx="1920.7" cy="801" r="6.3"/><circle cx="1940.7" cy="797" r="6.3"/><circle cx="1951.7" cy="795" r="6.3"/>
</g>
<text x="1848.3" y="860" font-size="24.5" textLength="45" lengthAdjust="spacingAndGlyphs">Low</text>
<text x="1910" y="860" font-size="24.5" textLength="51.7" lengthAdjust="spacingAndGlyphs">High</text>
</svg>
</body></html>
